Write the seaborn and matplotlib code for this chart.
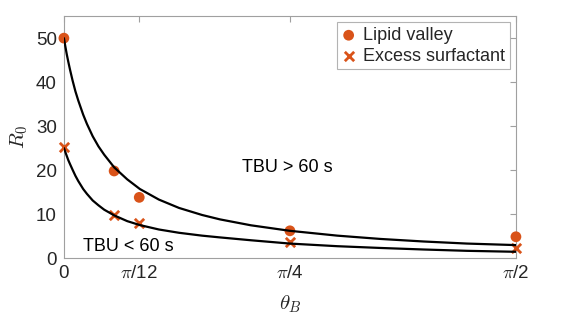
import numpy as np
import pandas as pd
import matplotlib
matplotlib.use("Agg")
import matplotlib.pyplot as plt
import seaborn as sns

# measured points
theta_pts = [0.0, np.pi / 18, np.pi / 12, np.pi / 4, np.pi / 2]
lipid_valley = [50.0, 19.8, 13.8, 6.2, 4.85]
excess_surf = [25.2, 9.8, 7.9, 3.6, 2.35]

# fitted curves
fit_theta = [0.000, 0.005, 0.010, 0.015, 0.021, 0.030, 0.040, 0.050, 0.067, 0.080,
             0.100, 0.120, 0.140, 0.175, 0.220, 0.264, 0.330, 0.400, 0.480, 0.542,
             0.650, 0.785, 0.950, 1.100, 1.250, 1.400, 1.571]
fit_upper = [50.0, 48.1, 46.3, 44.7, 42.9, 40.4, 37.9, 35.8, 32.6, 30.5,
             27.7, 25.4, 23.5, 20.6, 17.9, 15.7, 13.3, 11.4, 9.8, 8.8,
             7.45, 6.2, 5.1, 4.35, 3.77, 3.3, 2.95]
fit_lower = [25.0, 24.1, 23.2, 22.3, 21.4, 20.1, 18.7, 17.5, 15.7, 14.6,
             13.1, 12.0, 11.0, 9.7, 8.4, 7.5, 6.5, 5.75, 5.1, 4.7,
             4.05, 3.3, 2.7, 2.3, 1.95, 1.65, 1.43]

xtick_vals = [0.0, np.pi / 12, np.pi / 4, np.pi / 2]
xtick_labels = ["0", r"$\pi$/12", r"$\pi$/4", r"$\pi$/2"]

sns.set_style("white")
plt.rcParams["font.family"] = ["Liberation Sans", "DejaVu Sans"]
plt.rcParams["mathtext.fontset"] = "cm"

orange = "#D95319"
axcol = "#a0a0a0"
txtcol = "#262626"

fig = plt.figure(figsize=(5.81, 3.23), dpi=100)
ax = fig.add_axes([0.110, 0.201, 0.778, 0.749])

pts = pd.DataFrame({"theta": theta_pts, "lv": lipid_valley, "es": excess_surf})
curves = pd.DataFrame({"theta": fit_theta, "up": fit_upper, "lo": fit_lower})

sns.scatterplot(data=pts, x="theta", y="lv", ax=ax, color=orange, marker="o",
                s=60, edgecolor="none", clip_on=False, zorder=3, label="Lipid valley")
sns.scatterplot(data=pts, x="theta", y="es", ax=ax, color=orange, marker="x",
                s=45, linewidth=2, clip_on=False, zorder=3, label="Excess surfactant")
sns.lineplot(data=curves, x="theta", y="up", ax=ax, color="black", lw=1.6,
             zorder=4, legend=False, solid_joinstyle="round")
sns.lineplot(data=curves, x="theta", y="lo", ax=ax, color="black", lw=1.6,
             zorder=4, legend=False, solid_joinstyle="round")

ax.set_xlim(0, np.pi / 2)
ax.set_ylim(0, 55)
ax.set_xticks(xtick_vals)
ax.set_xticklabels(xtick_labels)
ax.set_yticks([0, 10, 20, 30, 40, 50])

for sp in ax.spines.values():
    sp.set_color(axcol)
    sp.set_linewidth(0.8)
ax.tick_params(direction="in", length=4, width=0.8, color=axcol,
               labelsize=13.5, labelcolor=txtcol, top=True, right=True, pad=5)

ax.set_xlabel(r"$\theta_B$", fontsize=15, color=txtcol, labelpad=8)
ax.set_ylabel(r"$R_0$", fontsize=15, color=txtcol, labelpad=4)

ax.text(0.618, 20.5, "TBU > 60 s", fontsize=13, color="black", va="center", ha="left")
ax.text(0.066, 2.6, "TBU < 60 s", fontsize=13, color="black", va="center", ha="left")

leg = ax.legend(loc="upper right", fontsize=13, frameon=True, fancybox=False,
                edgecolor=axcol, borderaxespad=0.35, handlelength=0.8,
                handletextpad=0.4, borderpad=0.25, labelspacing=0.2)
leg.get_frame().set_linewidth(0.8)

fig.savefig("out.png", dpi=100)
